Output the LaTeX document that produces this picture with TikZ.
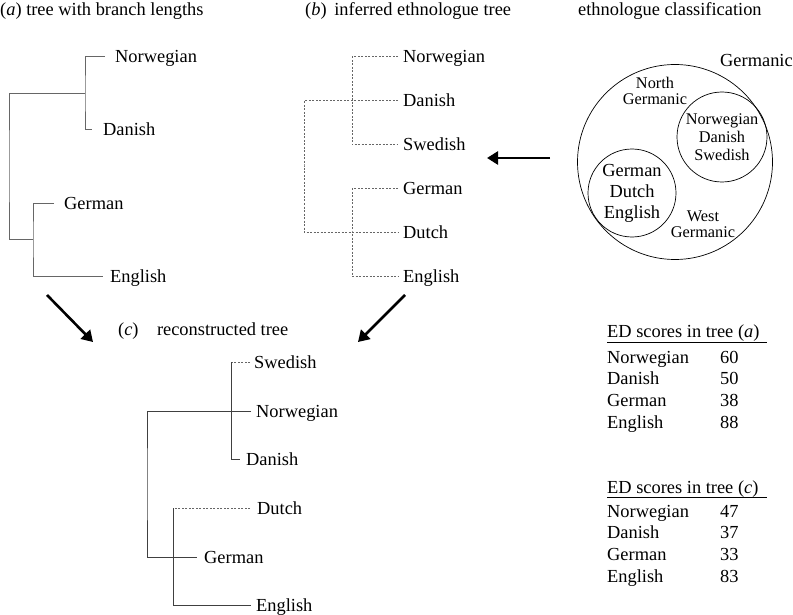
\documentclass[tikz,border=0pt]{standalone}
\usepackage{fontspec}
\setmainfont{Liberation Serif}
\usetikzlibrary{arrows.meta}

\tikzset{
  branch/.style={draw=black!60, line width=1pt},
  ethno/.style={branch, dash pattern=on 2pt off 1.5pt},
  leaf/.style={anchor=west, inner xsep=5pt, inner ysep=0pt, text height=12pt, text depth=0pt},
  label/.style={anchor=west, inner sep=0pt, text height=12pt, text depth=0pt},
  small/.style={font=\fontsize{16.3}{18}\selectfont},
  ring/.style={circle, draw, line width=0.7pt, inner sep=0pt},
  bigarrow/.style={line width=2.6pt, -{Triangle[length=11pt,width=13pt]}}
}

\begin{document}
\begin{tikzpicture}[x=1pt, y=-1pt, font=\fontsize{18.4}{21}\selectfont]
    \useasboundingbox (0,0) rectangle (793,615);

    % titles
    \node[label] (tA) at (0,10) {(\textit{a}) tree with branch lengths};
    \node[label] (tB) at (305,10) {(\textit{b})\, inferred ethnologue tree};
    \node[label] (tE) at (578,10) {ethnologue classification};
    \node[label] (tC) at (118,329) {(\textit{c})\quad reconstructed tree};

    % tree (a)
    \node[leaf, inner xsep=10pt] (aNor) at (105,57) {Norwegian};
    \node[leaf, inner xsep=11pt] (aDan) at (92,130) {Danish};
    \node[leaf, inner xsep=10pt] (aGer) at (54,204) {German};
    \node[leaf, inner xsep=7pt] (aEng) at (103,276) {English};
    \coordinate (aN) at (85,94);
    \coordinate (aW) at (33,239);
    \coordinate (aR) at (9,166);

    \draw[branch] (aNor.west) -| (aN) |- (aDan.west);
    \draw[branch] (aGer.west) -| (aW) |- (aEng.west);
    \draw[branch] (aN) -| (aR) |- (aW);

    % tree (b)
    \node[leaf] (bNor) at (398,57) {Norwegian};
    \node[leaf] (bDan) at (398,101) {Danish};
    \node[leaf] (bSwe) at (398,145) {Swedish};
    \node[leaf] (bGer) at (398,189) {German};
    \node[leaf] (bDut) at (398,232) {Dutch};
    \node[leaf] (bEng) at (398,276) {English};
    \coordinate (bN) at (352,101);
    \coordinate (bW) at (352,232);
    \coordinate (bR) at (304,166);

    \draw[ethno] (bNor.west) -| (bN) |- (bSwe.west);
    \draw[ethno] (bGer.west) -| (bW) |- (bEng.west);
    \draw[ethno] (bDan.west) -| (bR) |- (bDut.west);

    % ethnologue classification
    \node[ring, minimum size=195pt] (germanic) at (675,162) {};
    \node[ring, minimum size=90pt] (north) at (722,137) {};
    \node[ring, minimum size=88pt] (west) at (632,193) {};
    \node[label] (lGer) at (720,61) {Germanic};
    \node[small, align=center, inner sep=0pt] (lNorth) at (655,91) {North\\[-2pt]Germanic};
    \node[small, align=center, inner sep=0pt] (lWest) at (703,224) {West\\[-2pt]Germanic};
    \node[small, align=center, inner sep=0pt] (lNorthL) at (722,137) {Norwegian\\Danish\\Swedish};
    \node[align=center, inner sep=0pt] (lWestL) at (632,193) {German\\Dutch\\English};

    % arrows
    \coordinate (arE1) at (550,158);
    \coordinate (arE2) at (487,158);
    \coordinate (arA1) at (47,295);
    \coordinate (arA2) at (93,342);
    \coordinate (arB1) at (405,295);
    \coordinate (arB2) at (358,342);
    \draw[bigarrow] (arE1) -- (arE2);
    \draw[bigarrow] (arA1) -- (arA2);
    \draw[bigarrow] (arB1) -- (arB2);

    % tree (c)
    \node[leaf, inner xsep=4pt] (cSwe) at (250,362) {Swedish};
    \node[leaf] (cNor) at (251,411) {Norwegian};
    \node[leaf, inner xsep=6pt] (cDan) at (240,459) {Danish};
    \node[leaf, inner xsep=7pt] (cDut) at (250,508) {Dutch};
    \node[leaf, inner xsep=7pt] (cGer) at (197,557) {German};
    \node[leaf] (cEng) at (251,605) {English};
    \coordinate (cN) at (231,362);
    \coordinate (cW) at (173,508);
    \coordinate (cR) at (147,484);

    \draw[ethno] (cSwe.west) -- (cN);
    \draw[branch, draw=black!75] (cN) |- (cDan.west);
    \draw[ethno] (cDut.west) -- (cW);
    \draw[branch, draw=black!75] (cW) |- (cEng.west);
    \draw[branch, draw=black!75] (cNor.west) -| (cR) |- (cGer.west);

    % ED score tables
    \node[label] (hA) at (607,331) {ED scores in tree (\textit{a})};
    \draw[line width=1pt] (607,342) -- (767,342);
    \foreach \lang/\score [count=\i] in {Norwegian/60, Danish/50, German/38, English/88} {
      \node[label] (ra\i) at (607,{357+21.7*(\i-1)}) {\lang};
      \node[label] (sa\i) at (720,{357+21.7*(\i-1)}) {\score};
    }
    \node[label] (hC) at (607,487) {ED scores in tree (\textit{c})};
    \draw[line width=1pt] (607,497) -- (767,497);
    \foreach \lang/\score [count=\i] in {Norwegian/47, Danish/37, German/33, English/83} {
      \node[label] (rc\i) at (607,{511+21.7*(\i-1)}) {\lang};
      \node[label] (sc\i) at (720,{511+21.7*(\i-1)}) {\score};
    }
\end{tikzpicture}
\end{document}
